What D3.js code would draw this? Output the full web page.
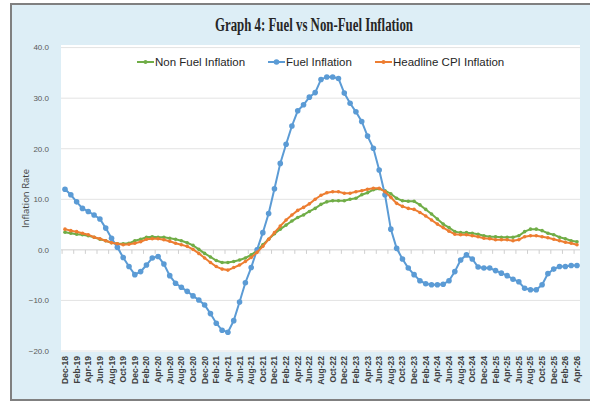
<!DOCTYPE html>
<html>
<head>
<meta charset="utf-8">
<script src="https://cdn.jsdelivr.net/npm/d3@7"></script>
<style>
  body { margin: 0; background: #fff; }
  svg { display: block; }
</style>
</head>
<body>
<svg id="chart"></svg>
<script>
// months Dec-18 .. Apr-26
const months = [
  "Dec-18",
  "Jan-19","Feb-19","Mar-19","Apr-19","May-19","Jun-19","Jul-19","Aug-19","Sep-19","Oct-19","Nov-19","Dec-19",
  "Jan-20","Feb-20","Mar-20","Apr-20","May-20","Jun-20","Jul-20","Aug-20","Sep-20","Oct-20","Nov-20","Dec-20",
  "Jan-21","Feb-21","Mar-21","Apr-21","May-21","Jun-21","Jul-21","Aug-21","Sep-21","Oct-21","Nov-21","Dec-21",
  "Jan-22","Feb-22","Mar-22","Apr-22","May-22","Jun-22","Jul-22","Aug-22","Sep-22","Oct-22","Nov-22","Dec-22",
  "Jan-23","Feb-23","Mar-23","Apr-23","May-23","Jun-23","Jul-23","Aug-23","Sep-23","Oct-23","Nov-23","Dec-23",
  "Jan-24","Feb-24","Mar-24","Apr-24","May-24","Jun-24","Jul-24","Aug-24","Sep-24","Oct-24","Nov-24","Dec-24",
  "Jan-25","Feb-25","Mar-25","Apr-25","May-25","Jun-25","Jul-25","Aug-25","Sep-25","Oct-25","Nov-25","Dec-25",
  "Jan-26","Feb-26","Mar-26","Apr-26"
];

const nonFuel = [
  3.5, 3.3, 3.1, 3.0, 2.8, 2.5, 2.1, 1.8, 1.4, 1.2,
  1.2, 1.3, 1.8, 2.1, 2.5, 2.6, 2.5, 2.5, 2.3, 2.1,
  1.8, 1.4, 0.9, 0.1, -0.7, -1.4, -2.1, -2.5, -2.5, -2.3,
  -2.0, -1.6, -1.0, -0.1, 1.0, 2.1, 3.2, 4.1, 4.9, 5.7,
  6.4, 6.9, 7.6, 8.2, 9.0, 9.5, 9.7, 9.7, 9.7, 10.0,
  10.2, 10.9, 11.3, 11.9, 12.1, 11.7, 11.1, 10.2, 9.7, 9.6,
  9.6, 8.9, 8.0, 7.1, 6.1, 5.1, 4.4, 3.6, 3.4, 3.4,
  3.3, 3.1, 2.8, 2.6, 2.6, 2.5, 2.5, 2.5, 2.8, 3.6,
  4.1, 4.1, 3.8, 3.3, 3.0, 2.5, 2.2, 1.8, 1.6
];

const fuel = [
  12.0, 10.9, 9.5, 8.2, 7.6, 6.9, 6.1, 4.3, 2.3, 0.5,
  -1.5, -3.3, -4.9, -4.3, -3.0, -1.6, -1.3, -2.8, -5.1, -6.6,
  -7.4, -8.2, -9.1, -9.9, -10.9, -12.6, -14.5, -15.9, -16.3, -14.0,
  -10.3, -6.5, -3.5, 0.0, 3.4, 7.2, 12.1, 17.1, 20.9, 24.5,
  27.5, 28.7, 30.2, 31.1, 33.7, 34.2, 34.2, 33.9, 31.0, 29.0,
  27.3, 25.4, 22.5, 20.1, 15.8, 10.9, 4.1, 0.3, -1.8, -3.6,
  -4.9, -6.1, -6.7, -6.9, -6.9, -6.8, -6.1, -4.3, -2.0, -1.0,
  -1.8, -3.4, -3.6, -3.6, -4.1, -4.6, -5.1, -5.8, -6.3, -7.6,
  -7.9, -7.9, -6.9, -4.7, -3.8, -3.3, -3.3, -3.1, -3.1
];

const headline = [
  4.1, 3.8, 3.6, 3.3, 3.0, 2.5, 2.2, 1.8, 1.4, 1.2,
  1.0, 1.1, 1.3, 1.6, 2.1, 2.2, 2.2, 2.0, 1.7, 1.3,
  1.0, 0.7, 0.1, -0.7, -1.6, -2.5, -3.3, -3.8, -4.0, -3.5,
  -3.0, -2.3, -1.5, -0.5, 0.7, 2.1, 3.4, 4.7, 5.9, 6.9,
  7.8, 8.4, 9.1, 10.0, 10.8, 11.3, 11.5, 11.5, 11.2, 11.2,
  11.5, 11.7, 12.0, 12.2, 12.2, 11.5, 10.4, 9.2, 8.6, 8.2,
  8.0, 7.4, 6.7, 5.9, 5.1, 4.4, 3.7, 3.1, 3.0, 3.0,
  2.8, 2.6, 2.3, 2.2, 2.0, 2.0, 2.0, 1.8, 2.0, 2.6,
  2.8, 2.8, 2.6, 2.4, 2.1, 1.8, 1.5, 1.3, 1.0
];

const yTicks = [-20, -10, 0, 10, 20, 30, 40];

const seriesNames = ["Non Fuel Inflation", "Fuel Inflation", "Headline CPI Inflation"];
const seriesColors = ["#70ad47", "#5b9bd5", "#ed7d31"];

const W = 590, H = 405;
const plot = { left: 61, right: 580, top: 45, bottom: 352 };

const svg = d3.select("#chart").attr("width", W).attr("height", H);

// outer frame
svg.append("rect")
    .attr("x", 11).attr("y", 4)
    .attr("width", 590).attr("height", 396)
    .attr("fill", "#ddeef6")
    .attr("stroke", "#808080")
    .attr("stroke-width", 2);

// plot area
svg.append("rect")
    .attr("x", plot.left).attr("y", plot.top)
    .attr("width", plot.right - plot.left)
    .attr("height", plot.bottom - plot.top)
    .attr("fill", "#fff");

const x = d3.scalePoint()
    .domain(months)
    .range([65, 577]);

const y = d3.scaleLinear()
    .domain([-20, 40])
    .range([351, 47.6]);

// gridlines
svg.append("g")
    .selectAll("line")
    .data(yTicks.filter(d => d !== 0))
    .enter()
    .append("line")
    .attr("x1", plot.left).attr("x2", plot.right)
    .attr("y1", d => y(d)).attr("y2", d => y(d))
    .attr("stroke", "#e3e3e3")
    .attr("stroke-width", 1);

// y tick labels
svg.append("g")
    .selectAll("text")
    .data(yTicks)
    .enter()
    .append("text")
    .attr("x", 49)
    .attr("y", d => y(d))
    .attr("dy", "0.35em")
    .attr("text-anchor", "end")
    .style("font-family", "'Liberation Sans', Arial, sans-serif")
    .style("font-size", "8px")
    .style("fill", "#595959")
    .text(d => d3.format(".1f")(d));

// zero axis with tick marks between every second month
const step = x.step();
const zeroY = y(0);
svg.append("line")
    .attr("x1", plot.left).attr("x2", plot.right)
    .attr("y1", zeroY).attr("y2", zeroY)
    .attr("stroke", "#cfcfcf")
    .attr("stroke-width", 1);

svg.append("g")
    .selectAll("line")
    .data(months.filter((d, i) => i % 2 === 0))
    .enter()
    .append("line")
    .attr("x1", d => x(d) - step / 2)
    .attr("x2", d => x(d) - step / 2)
    .attr("y1", zeroY).attr("y2", zeroY + 4)
    .attr("stroke", "#cfcfcf");

// x labels
svg.append("g")
    .selectAll("text")
    .data(months.filter((d, i) => i % 2 === 0))
    .enter()
    .append("text")
    .attr("transform", d => `translate(${x(d)},356) rotate(-90)`)
    .attr("dy", "0.35em")
    .attr("text-anchor", "end")
    .style("font-family", "'Liberation Sans', Arial, sans-serif")
    .style("font-size", "8.5px")
    .style("font-weight", "bold")
    .style("fill", "#404040")
    .text(d => d);

// y axis title
svg.append("text")
    .attr("transform", `translate(26,${(plot.top + plot.bottom) / 2}) rotate(-90)`)
    .attr("dy", "0.35em")
    .attr("text-anchor", "middle")
    .style("font-family", "'Open Sans', sans-serif")
    .style("font-size", "9.5px")
    .style("fill", "#404040")
    .text("Inflation Rate");

// title
svg.append("text")
    .attr("x", 314).attr("y", 31)
    .attr("text-anchor", "middle")
    .attr("textLength", 198)
    .attr("lengthAdjust", "spacingAndGlyphs")
    .style("font-family", "'Liberation Serif', serif")
    .style("font-size", "18px")
    .style("font-weight", "bold")
    .style("fill", "#262626")
    .text("Graph 4: Fuel vs Non-Fuel Inflation");

// series
const allSeries = [nonFuel, fuel, headline];
const line = d3.line()
    .x((d, i) => x(months[i]))
    .y(d => y(d));

allSeries.forEach((vals, k) => {
  const g = svg.append("g");
  g.append("path")
    .datum(vals)
    .attr("d", line)
    .attr("fill", "none")
    .attr("stroke", seriesColors[k])
    .attr("stroke-width", 2);
  g.selectAll("circle")
    .data(vals)
    .enter()
    .append("circle")
    .attr("cx", (d, i) => x(months[i]))
    .attr("cy", d => y(d))
    .attr("r", k === 1 ? 2.8 : 1.8)
    .attr("fill", seriesColors[k]);
});

// legend
const legendX = [137, 268, 375];
const legend = svg.append("g");
seriesNames.forEach((name, k) => {
  const lg = legend.append("g").attr("transform", `translate(${legendX[k]},62)`);
  lg.append("line")
    .attr("x1", 0).attr("x2", 17)
    .attr("stroke", seriesColors[k])
    .attr("stroke-width", 2);
  lg.append("circle")
    .attr("cx", 8.5).attr("r", k === 1 ? 2.8 : 2)
    .attr("fill", seriesColors[k]);
  lg.append("text")
    .attr("x", 18)
    .attr("dy", "0.35em")
    .style("font-family", "'Liberation Sans', Arial, sans-serif")
    .style("font-size", "11.5px")
    .style("fill", "#262626")
    .text(name);
});
</script>
</body>
</html>
